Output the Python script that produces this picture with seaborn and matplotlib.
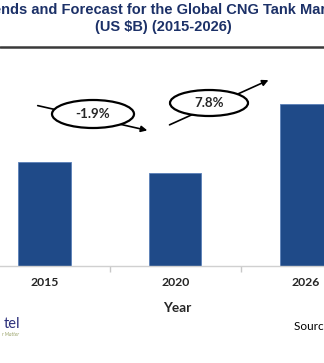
import matplotlib
matplotlib.use("Agg")
import matplotlib.pyplot as plt
import seaborn as sns
import pandas as pd
from matplotlib.patches import Ellipse
from matplotlib.lines import Line2D

years = ["2015", "2020", "2026"]
market_size = [1.04, 0.93, 1.62]
cagr_labels = ["-1.9%", "7.8%"]
title_line1 = "Trends and Forecast for the Global CNG Tank Market"
title_line2 = "(US $B) (2015-2026)"

W, H = 324, 363
sns.set_style("white")
plt.rcParams['font.family'] = ['Lato', 'DejaVu Sans']

fig = plt.figure(figsize=(W / 100, H / 100), dpi=100)

def fx(px):
    return px / W

def fy(py):
    return 1 - py / H

# axes: x from -21 to 371.5 px, y from 50 to 266 px
ax = fig.add_axes([fx(-21), fy(266), fx(392.5), (266 - 50) / H])
df = pd.DataFrame({"Year": years, "Value": market_size})
sns.barplot(data=df, x="Year", y="Value", color="#1f4a88", width=0.4,
            edgecolor="#5a7fb8", linewidth=0.6, saturation=1, ax=ax)
ax.set_xlim(-0.5, 2.5)
ax.set_ylim(0, 2.16)
for s in ["top", "right", "left"]:
    ax.spines[s].set_visible(False)
ax.spines["bottom"].set_color("#d0d0d0")
ax.spines["bottom"].set_linewidth(1.0)
ax.set_yticks([])
ax.set_ylabel("")
ax.set_xlabel("")
ax.set_xticks([0.5, 1.5], minor=False)
ax.set_xticklabels([])
ax.tick_params(axis="x", which="major", length=4, color="#c8c8c8", width=1, bottom=True)
for i, yr in enumerate(years):
    ax.text(i, -0.17, yr, ha="center", va="center", fontsize=8.8,
            fontweight="bold", transform=ax.transData, clip_on=False)

fig.text(fx(177), fy(308), "Year", ha="center", va="center", fontsize=9.8, fontweight="bold")

# title
fig.text(fx(163), fy(10), title_line1, ha="center", va="center", fontsize=10.5,
         fontweight="bold", color="#1c3168", family="Liberation Sans")
fig.text(fx(163), fy(27), title_line2, ha="center", va="center", fontsize=10.5,
         fontweight="bold", color="#1c3168", family="Liberation Sans")

# separator line
fig.add_artist(Line2D([0, 1], [fy(47), fy(47)], transform=fig.transFigure,
                      color="#3a3a3a", linewidth=1.8))

# CAGR arrows and ellipses
arrows = [((35, 105), (150, 131), (93, 114), 82, 28),
          ((167, 126), (271, 79), (209, 103), 78, 26)]
for (s, e, c, ew, eh), lab in zip(arrows, cagr_labels):
    fig.add_artist(matplotlib.patches.FancyArrowPatch(
        (fx(s[0]), fy(s[1])), (fx(e[0]), fy(e[1])), transform=fig.transFigure,
        arrowstyle="-|>", mutation_scale=9, color="black", linewidth=1.2))
    fig.add_artist(Ellipse((fx(c[0]), fy(c[1])), fx(ew), eh / H, transform=fig.transFigure,
                           facecolor="white", edgecolor="black", linewidth=1.6, zorder=5))
    fig.text(fx(c[0]), fy(c[1]), lab, ha="center", va="center", fontsize=9.6,
             fontweight="bold", zorder=6)

# logo fragment and source
fig.text(fx(20), fy(324), "tel", ha="right", va="center", fontsize=10.5,
         color="#2b2f7a")
fig.text(fx(19), fy(335), "r Matter", ha="right", va="center", fontsize=3.5,
         color="#9aa36a", style="italic")
fig.text(fx(294), fy(326), "Source: Lucintel", ha="left", va="center", fontsize=8.5,
         color="black")

fig.savefig("out.png", dpi=100)
